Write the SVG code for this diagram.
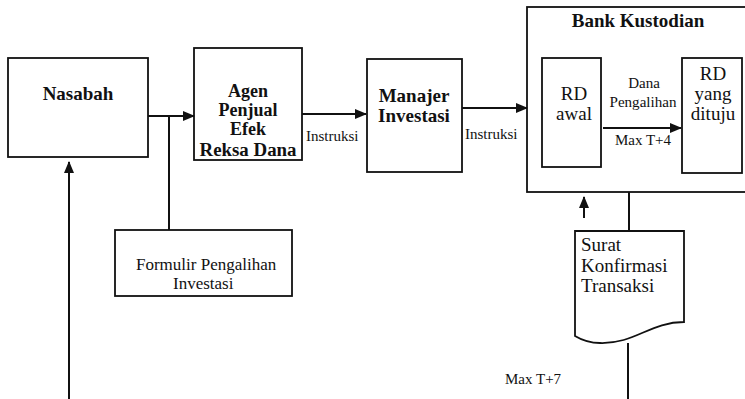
<svg xmlns="http://www.w3.org/2000/svg" width="745" height="399" viewBox="0 0 745 399">
<style>
.box{fill:#fff;stroke:#111;stroke-width:1.8}
.ln{fill:none;stroke:#111;stroke-width:2}
.b{font-family:"Liberation Serif","Times New Roman",serif;font-weight:bold;font-size:19px;fill:#111;text-anchor:middle}
.r{font-family:"Liberation Serif","Times New Roman",serif;font-size:19px;fill:#111}
.s{font-family:"Liberation Serif","Times New Roman",serif;font-size:15px;fill:#111}
.c{text-anchor:middle}
</style>
<defs>
<marker id="ah" markerWidth="12" markerHeight="10" refX="11" refY="5" orient="auto" markerUnits="userSpaceOnUse">
<path d="M0,0 L12,5 L0,10 Z" fill="#111"/>
</marker>
</defs>
<rect width="745" height="399" fill="#fff"/>
<g id="bank">
<rect class="box" x="527" y="7" width="230" height="185"/>
<text class="b" x="638" y="27">Bank Kustodian</text>
</g>
<g id="nasabah">
<rect class="box" x="8" y="58" width="140" height="99"/>
<text class="b" x="78" y="100">Nasabah</text>
</g>
<g id="agen">
<rect class="box" x="194" y="48" width="108" height="112"/>
<text class="b" x="248" y="97" style="font-size:18px">Agen</text>
<text class="b" x="248" y="116" style="font-size:18px">Penjual</text>
<text class="b" x="248" y="135" style="font-size:18px">Efek</text>
<text class="b" x="248" y="156" style="font-size:18px" textLength="97" lengthAdjust="spacingAndGlyphs">Reksa Dana</text>
</g>
<g id="manajer">
<rect class="box" x="367" y="59" width="95" height="113"/>
<text class="b" x="414" y="102">Manajer</text>
<text class="b" x="414" y="122">Investasi</text>
</g>
<g id="rdawal">
<rect class="box" x="542" y="58" width="59" height="109"/>
<text class="r c" x="574" y="100">RD</text>
<text class="r c" x="574" y="120">awal</text>
</g>
<g id="rdtuju">
<rect class="box" x="682" y="58" width="60" height="115"/>
<text class="r c" x="713" y="80">RD</text>
<text class="r c" x="713" y="100">yang</text>
<text class="r c" x="713" y="120">dituju</text>
</g>
<g id="formulir">
<rect class="box" x="115" y="230" width="177" height="66"/>
<text class="r" x="136" y="270" style="font-size:17px">Formulir Pengalihan</text>
<text class="r" x="173" y="289" style="font-size:17px">Investasi</text>
</g>
<g id="surat">
<path class="box" d="M575,231 H684 V322 C650,322 635,344 600,343 C588,343 580,339 575,336 Z"/>
<text class="r" x="581" y="251">Surat</text>
<text class="r" x="581" y="272">Konfirmasi</text>
<text class="r" x="581" y="292">Transaksi</text>
</g>
<g id="connectors">
<line class="ln" x1="148" y1="116" x2="194" y2="116" marker-end="url(#ah)"/>
<line class="ln" x1="169" y1="116" x2="169" y2="230"/>
<line class="ln" x1="302" y1="114" x2="366" y2="114" marker-end="url(#ah)"/>
<line class="ln" x1="462" y1="108" x2="527" y2="108" marker-end="url(#ah)"/>
<line class="ln" x1="603" y1="128" x2="681" y2="128" marker-end="url(#ah)"/>
<line class="ln" x1="69" y1="399" x2="69" y2="162" marker-end="url(#ah)"/>
<line class="ln" x1="584" y1="218" x2="584" y2="197" marker-end="url(#ah)"/>
<line class="ln" x1="629" y1="192" x2="629" y2="231"/>
<line class="ln" x1="628" y1="343" x2="628" y2="399"/>
<text class="s" x="306" y="141">Instruksi</text>
<text class="s" x="465" y="139">Instruksi</text>
<text class="s c" x="644" y="88">Dana</text>
<text class="s c" x="643" y="107" textLength="67" lengthAdjust="spacingAndGlyphs">Pengalihan</text>
<text class="s c" x="643" y="145">Max T+4</text>
<text class="s" x="505" y="384">Max T+7</text>
</g>
</svg>
